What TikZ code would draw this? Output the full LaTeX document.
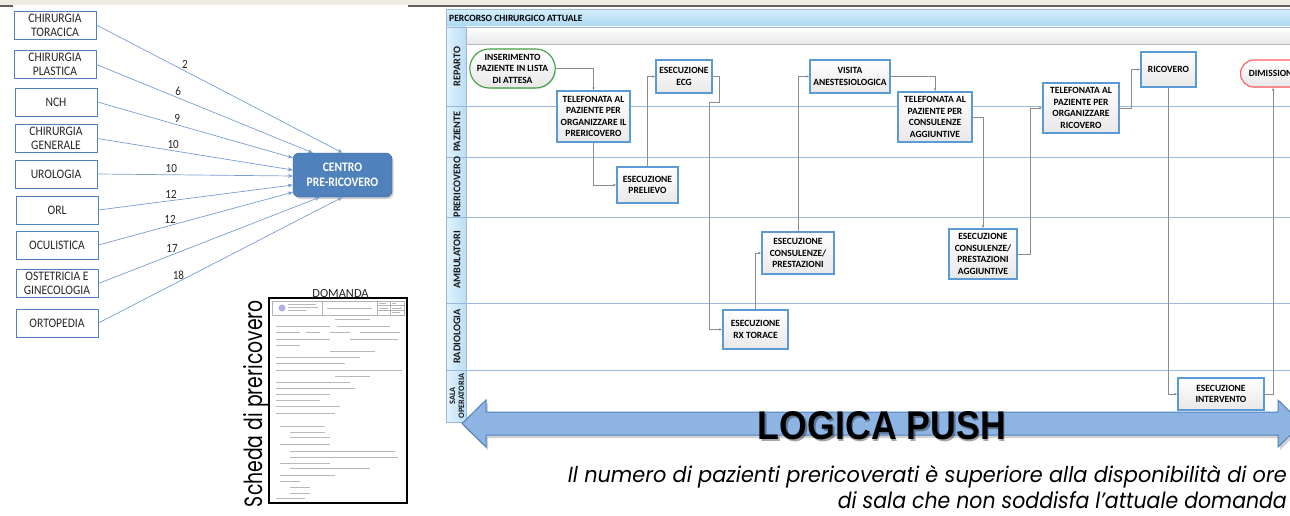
\documentclass[tikz,border=0pt]{standalone}
\usepackage{fontspec}
\usepackage{graphicx}
\setmainfont{Carlito}
\newfontfamily\leftfont{Carlito}[FakeStretch=0.89]
\newfontfamily\gothic{Poppins}
\newfontfamily\heavy{Liberation Sans}
\usetikzlibrary{shapes.misc,shadows,arrows.meta,calc}
\definecolor{deptblue}{HTML}{4F81BD}
\definecolor{arrblue}{HTML}{7A9CD3}
\definecolor{lanegrid}{HTML}{9BB8DA}
\definecolor{titletop}{HTML}{D4EEFB}
\definecolor{titlebot}{HTML}{A9D6F3}
\definecolor{colleft}{HTML}{E2F2FC}
\definecolor{colright}{HTML}{B9DEF6}
\definecolor{procborder}{HTML}{5B9BD5}
\definecolor{bigfill}{HTML}{8DB4E2}
\definecolor{bigdraw}{HTML}{4F81BD}
\definecolor{beige}{HTML}{EEECE1}
\definecolor{txt}{HTML}{262626}
\definecolor{conn}{HTML}{8C8C8C}
\definecolor{greenb}{HTML}{3F9F3F}
\definecolor{redb}{HTML}{FF5B5B}
\begin{document}
\begin{tikzpicture}[x=1pt,y=-1pt,
  dept/.style={draw=deptblue, line width=0.8pt, fill=white, minimum width=82pt, minimum height=28pt,
    align=center, font=\leftfont\fontsize{13}{14}\selectfont, text=txt, inner sep=0pt},
  feed/.style={draw=arrblue, line width=0.7pt, -{Stealth[length=5pt,width=4pt]}},
  numlab/.style={font=\leftfont\fontsize{12.5}{12.5}\selectfont, text=txt, above, inner sep=2pt},
  proc/.style={draw=procborder, line width=1.1pt, top color=white, bottom color=gray!18,
    align=center, font=\fontsize{9.5}{11.5}\selectfont\bfseries, text=black, inner sep=0.5pt,
    drop shadow={opacity=0.2, shadow xshift=1pt, shadow yshift=-1pt}},
  term/.style={proc, rounded rectangle},
  flow/.style={draw=conn, line width=0.6pt, -{Latex[length=3pt,width=2.4pt]}},
  lanelab/.style={rotate=90, font=\fontsize{10.3}{9}\selectfont\bfseries, text=black!90, align=center, inner sep=0pt},
  formline/.style={draw=gray!55, line width=1pt}
]
\useasboundingbox (0,0) rectangle (1290,516);
\fill[white] (0,0) rectangle (1290,516);
% top strip
\fill[beige] (0,0) rectangle (1290,5);
\draw[gray!75!black, line width=2pt] (0,6) -- (13,6);
\draw[gray!75!black, line width=2pt] (408,6) -- (1290,6);

% ---------------- left part ----------------
\node[dept] (tor) at (55,25) {CHIRURGIA\\TORACICA};
\node[dept] (pla) at (55,64.5) {CHIRURGIA\\PLASTICA};
\node[dept] (nch) at (56,102) {NCH};
\node[dept] (gen) at (56,138.5) {CHIRURGIA\\GENERALE};
\node[dept] (uro) at (56,174) {UROLOGIA};
\node[dept] (orl) at (57,210) {ORL};
\node[dept] (ocu) at (57,245) {OCULISTICA};
\node[dept] (ost) at (57,283.5) {OSTETRICIA E\\GINECOLOGIA};
\node[dept] (ort) at (57,323) {ORTOPEDIA};

\node[draw=deptblue!80!black, fill=deptblue, rounded corners=6pt, minimum width=99pt, minimum height=44pt,
  text=white, font=\leftfont\fontsize{13}{15}\selectfont\bfseries, align=center,
  drop shadow={opacity=0.35, shadow xshift=1.5pt, shadow yshift=-2pt}] (centro) at (342.5,175) {CENTRO\\PRE-RICOVERO};

\draw[feed] (tor.east) -- node[numlab,pos=.36] (l1) {2} (centro.north);
\draw[feed] (pla.east) -- node[numlab,pos=.378] (l2) {6} ([xshift=20pt]centro.north west);
\draw[feed] (nch.east) -- node[numlab,pos=.408] (l3) {9} ([yshift=-5pt]centro.north west);
\draw[feed] (gen.east) -- node[numlab,pos=.388] (l4) {10} ([yshift=5pt]centro.west);
\draw[feed] (uro.east) -- node[numlab,pos=.378] (l5) {10} ([yshift=-1pt]centro.west);
\draw[feed] (orl.east) -- node[numlab,pos=.374] (l6) {12} ([yshift=-10pt]centro.west);
\draw[feed] (ocu.east) -- node[numlab,pos=.369] (l7) {12} ([yshift=5pt]centro.south west);
\draw[feed] (ost.east) -- node[numlab,pos=.333] (l8) {17} ([xshift=27pt]centro.south west);
\draw[feed] (ort.east) -- node[numlab,pos=.328] (l9) {18} (centro.south);

% form
\node[inner sep=0, rotate=90] (scheda) at (256,403.5) {\resizebox{207pt}{19pt}{\gothic Scheda di prericovero}};
\node[font=\fontsize{12.4}{12.4}\selectfont, text=black!85, inner sep=0] (dom) at (340.5,293.5) {DOMANDA};
\draw[line width=1.5pt] (269,298) rectangle (407,503);
\draw[gray!60, line width=0.4pt] (272,301) rectangle (404,315);
\draw[gray!60, line width=0.4pt] (322,301) -- (322,315) (377,301) -- (377,315) (390,301) -- (390,315)
  (377,305.5) -- (404,305.5) (377,310) -- (404,310);
\fill[gray!45!blue!40] (282,308) circle (3.5);
\foreach \yy/\xa/\xb in {304/288/316,307/288/318,310/288/306,308/327/372,303.5/379/386,303.5/392/396,308/379/388,308/392/402,312.5/392/400}
  \draw[draw=gray!55, line width=0.7pt] (\xa,\yy) -- (\xb,\yy);
\foreach \yy/\xa/\xb in {319/335/370,326/276/330,326/337/390,332/276/300,332/306/320,332/330/350,332/360/400,
  339/276/330,339/350/398,345/276/300,351/330/375,357/276/360,363/276/345,370/276/402,376/335/370,
  382/276/350,388/276/355,394/276/330,400/276/320,406/276/340,413/276/335,426/280/325,432/290/325,
  437/290/330,444/280/330,451/290/395,457/290/398,463/280/330,468/290/370,475/280/335,481/280/300,
  487/290/310,493/290/310,498/276/305}
  \draw[formline] (\xa,\yy) -- (\xb,\yy);

% ---------------- swimlane ----------------
\shade[top color=titletop, bottom color=titlebot] (446,10) rectangle (1300,27);
\shade[left color=colleft, right color=colright] (446,27) rectangle (466,422);
\shade[top color=white, bottom color=gray!18] (466,27) rectangle (1300,44);
\draw[gray!55, line width=0.8pt] (466,44) -- (1300,44);
\foreach \yy in {106,157,217,303,370}
  \draw[lanegrid, line width=0.7pt] (446,\yy) -- (1300,\yy);
\draw[lanegrid, line width=0.8pt] (446,27) -- (1300,27);
\draw[lanegrid, line width=0.7pt] (466,27) -- (466,422);
\draw[lanegrid, line width=1pt] (1300,10) -- (446,10) -- (446,422) -- (1300,422);
\node[anchor=west, font=\fontsize{9.6}{9.6}\selectfont\bfseries, text=black, inner sep=0] (title) at (449,18.5) {PERCORSO CHIRURGICO ATTUALE};

\node[lanelab] (lrep) at (457,66.5) {REPARTO};
\node[lanelab] (lpaz) at (457,131.5) {PAZIENTE};
\node[lanelab] (lpre) at (457,187) {PRERICOVERO};
\node[lanelab] (lamb) at (457,260) {AMBULATORI};
\node[lanelab] (lrad) at (457,336.5) {RADIOLOGIA};
\node[lanelab, font=\fontsize{8.3}{9}\selectfont\bfseries] (lsala) at (457,396) {SALA\\OPERATORIA};

\node[term, draw=greenb, minimum width=81pt, minimum height=39pt] (ins) at (512.5,68.5) {INSERIMENTO\\PAZIENTE IN LISTA\\DI ATTESA};
\node[proc, minimum width=73pt, minimum height=51pt] (tel1) at (593.5,116.5) {TELEFONATA AL\\PAZIENTE PER\\ORGANIZZARE IL\\PRERICOVERO};
\node[proc, minimum width=56pt, minimum height=33pt] (ecg) at (684,76.5) {ESECUZIONE\\ECG};
\node[proc, minimum width=61pt, minimum height=36pt] (prel) at (647.5,185) {ESECUZIONE\\PRELIEVO};
\node[proc, minimum width=80pt, minimum height=33pt] (visita) at (850,76.5) {VISITA\\ANESTESIOLOGICA};
\node[proc, minimum width=74pt, minimum height=50pt] (tel2) at (935,117) {TELEFONATA AL\\PAZIENTE PER\\CONSULENZE\\AGGIUNTIVE};
\node[proc, minimum width=76pt, minimum height=50pt] (tel3) at (1081,108) {TELEFONATA AL\\PAZIENTE PER\\ORGANIZZARE\\RICOVERO};
\node[proc, minimum width=55pt, minimum height=35pt] (ric) at (1168.5,69.5) {RICOVERO};
\node[term, draw=redb, minimum width=66pt, minimum height=27pt] (dim) at (1273,73.5) {DIMISSIONE};
\node[proc, minimum width=72pt, minimum height=42pt] (cons) at (798,253) {ESECUZIONE\\CONSULENZE/\\PRESTAZIONI};
\node[proc, minimum width=65pt, minimum height=39pt] (rx) at (755.5,329.5) {ESECUZIONE\\RX TORACE};
\node[proc, minimum width=68pt, minimum height=50pt] (consagg) at (983,254) {ESECUZIONE\\CONSULENZE/\\PRESTAZIONI\\AGGIUNTIVE};
\node[proc, minimum width=86pt, minimum height=32pt] (int) at (1221,394) {ESECUZIONE\\INTERVENTO};

\draw[flow] (ins.east) -| (tel1.north);
\draw[flow] (tel1.south) |- (prel.west);
\draw[flow] (prel.north) |- (ecg.west);
\draw[flow] (ecg.east) -- ++(7,0) -- ++(0,26) -- ++(-10,0) |- (rx.west);
\draw[flow] (rx.north) |- (cons.west);
\draw[flow] (cons.north) |- (visita.west);
\draw[flow] (visita.east) -| (tel2.north);
\draw[flow] (tel2.east) -| (consagg.north);
\draw[flow] (consagg.east) -- ++(13,0) |- (tel3.west);
\draw[flow] (tel3.east) -- ++(12,0) |- (ric.west);
\draw[flow] (ric.south) |- (int.west);
\draw[flow] (int.east) -| (dim.south);

% big double arrow
\draw[fill=bigfill, draw=bigdraw, line width=1pt, drop shadow={opacity=.35, shadow xshift=2pt, shadow yshift=-3pt}]
  (462,423.5) -- (486,400) -- (486,412) -- (1278,412) -- (1278,400) -- (1302,423.5) -- (1278,447)
  -- (1278,435) -- (486,435) -- (486,447) -- cycle;
\node[inner sep=0, text=black, opacity=0.35] (pushshadow) at (883.5,427.5) {\resizebox{248pt}{28pt}{\heavy\bfseries LOGICA PUSH}};
\node[inner sep=0, text=black] (push) at (882,426) {\resizebox{248pt}{28pt}{\heavy\bfseries LOGICA PUSH}};

\node[anchor=base east, inner sep=0, text=black] (cap1) at (1287,482) {\resizebox{719pt}{17pt}{\gothic\itshape Il numero di pazienti prericoverati è superiore alla disponibilità di ore}};
\node[anchor=base east, inner sep=0, text=black] (cap2) at (1287,508) {\resizebox{449pt}{17pt}{\gothic\itshape di sala che non soddisfa l’attuale domanda}};
\end{tikzpicture}
\end{document}
